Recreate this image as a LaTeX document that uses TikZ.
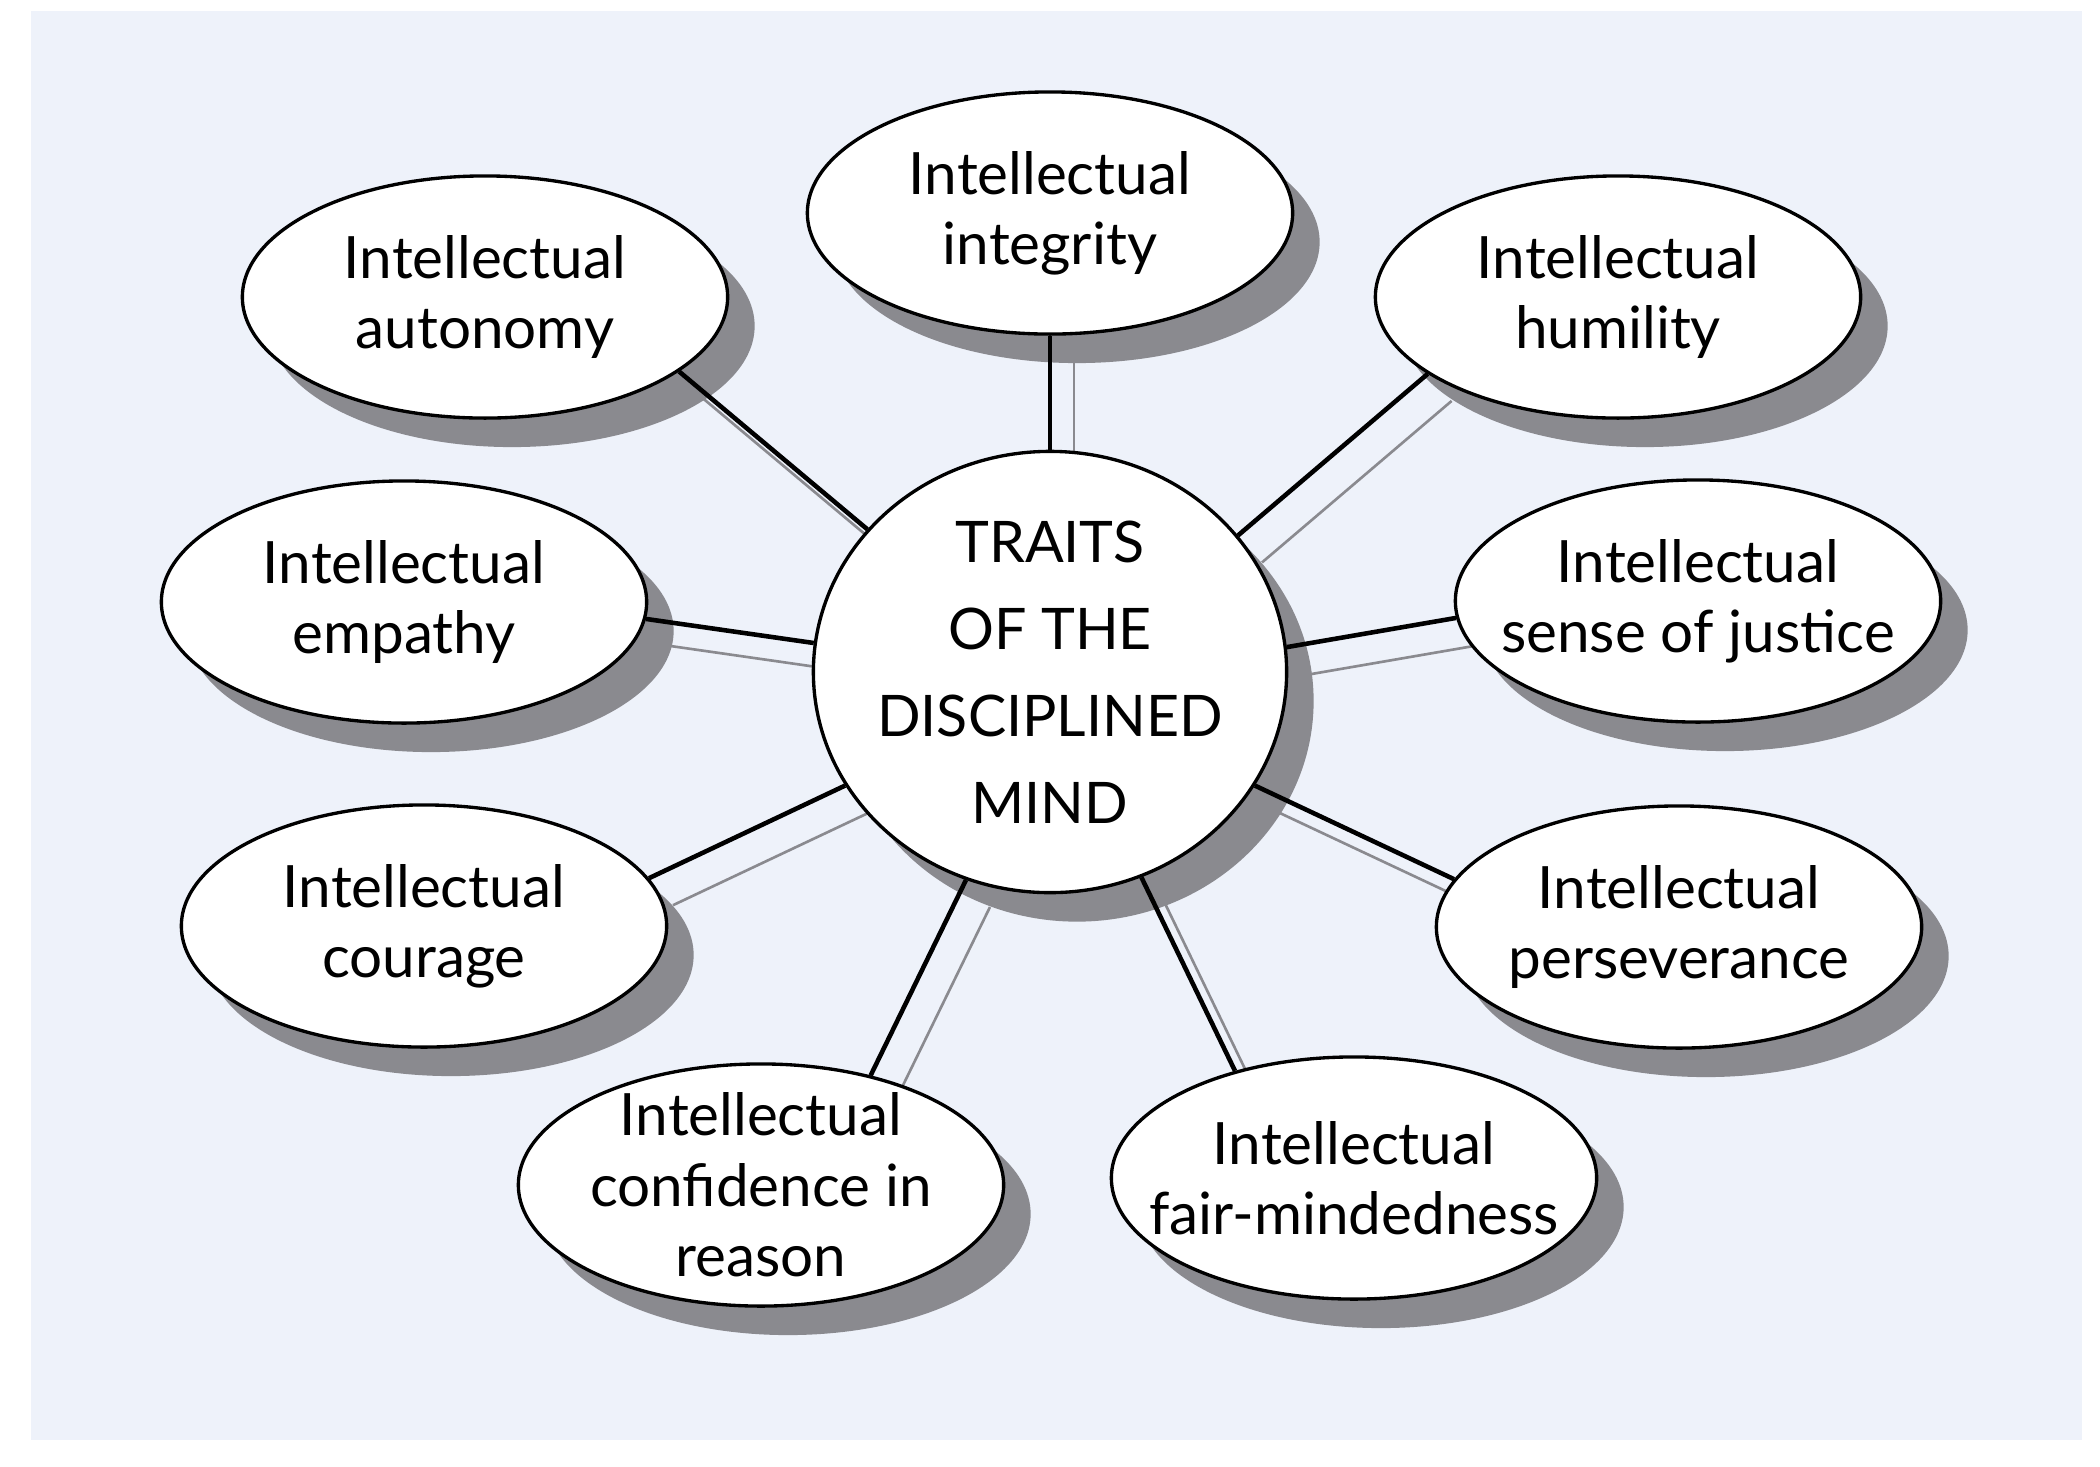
\documentclass[tikz,border=0pt]{standalone}
\usepackage{fontspec}
\setmainfont{Lato}
\usetikzlibrary{shapes.geometric}
\definecolor{bgblue}{RGB}{238,242,250}
\definecolor{shgray}{RGB}{138,138,143}
\pgfdeclarelayer{bglayer}
\pgfdeclarelayer{shline}
\pgfdeclarelayer{shadow}
\pgfdeclarelayer{conn}
\pgfsetlayers{bglayer,shline,shadow,conn,main}
\tikzset{
  traitsize/.style={minimum width=4.85cm, minimum height=2.42cm},
  hubsize/.style={minimum width=4.73cm, minimum height=4.41cm},
  trait/.style={ellipse, traitsize, draw=black, line width=0.95pt, fill=white,
    inner xsep=-20pt, inner ysep=-8pt, align=center, font=\fontsize{16.6}{20}\selectfont},
  hub/.style={ellipse, hubsize, draw=black, line width=0.95pt, fill=white,
    inner sep=-12pt, align=center, font=\fontsize{16.3}{24.7}\selectfont},
  shade/.style={ellipse, fill=shgray, draw=none, inner sep=0pt},
  link/.style={draw=black, line width=1.3pt},
  shlink/.style={draw=shgray, line width=0.75pt},
}
\begin{document}
\begin{tikzpicture}[x=0.01cm,y=-0.01cm]
\begin{pgfonlayer}{bglayer}
  \fill[white] (0,0) rectangle (2100,1466);
  \fill[bgblue] (31,11) rectangle (2082,1440);
\end{pgfonlayer}
\useasboundingbox (0,0) rectangle (2100,1466);

\node[hub] (M) at (1050,672) {TRAITS\\OF THE\\DISCIPLINED\\MIND};
\node[trait] (I) at (1050,213) {Intellectual\\integrity};
\node[trait] (A) at (485,297) {Intellectual\\autonomy};
\node[trait] (H) at (1618,297) {Intellectual\\humility};
\node[trait] (E) at (404,602) {Intellectual\\empathy};
\node[trait] (J) at (1698,601) {Intellectual\\sense of justice};
\node[trait] (C) at (424,926) {Intellectual\\courage};
\node[trait] (P) at (1679,927) {Intellectual\\perseverance};
\node[trait] (R) at (761,1185) {Intellectual\\confidence in\\reason};
\node[trait] (F) at (1354,1178) {Intellectual\\fair-mindedness};

\begin{pgfonlayer}{shadow}
  \node[shade, hubsize] (Ms) at ([shift={(27,29)}]M.center) {};
  \foreach \n in {I,A,H,E,J,C,P,R,F}
    \node[shade, traitsize] (\n s) at ([shift={(27,29)}]\n.center) {};
\end{pgfonlayer}

\foreach \a/\n/\b in {90/I/-90, 142.4/A/-21.5, 36.8/H/-158, 173.7/E/-4, 6/J/184.3,
  209.8/C/12.1, -29.4/P/168.2, -112.5/R/45, -66.8/F/138.8}{
  \begin{pgfonlayer}{conn}
    \draw[link] (M.\a) -- (\n.\b);
  \end{pgfonlayer}
  \begin{pgfonlayer}{shline}
    \draw[shlink] ([shift={(24,27)}]M.\a) -- ([shift={(24,27)}]\n.\b);
  \end{pgfonlayer}
}
\end{tikzpicture}
\end{document}
